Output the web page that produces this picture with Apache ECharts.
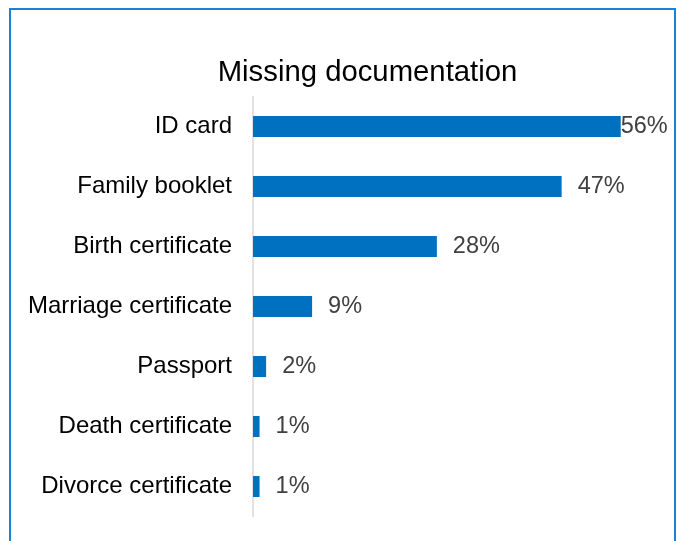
<!DOCTYPE html>
<html>
<head>
<meta charset="utf-8">
<script src="https://cdn.jsdelivr.net/npm/echarts@6/dist/echarts.min.js"></script>
<style>
  html, body { margin: 0; padding: 0; background: #fff; }
  #frame {
    position: absolute; left: 9px; top: 8px; width: 667px; height: 560px;
    border: 2px solid #1f7fd1; box-sizing: border-box;
  }
  #chart { position: absolute; left: 0; top: 0; width: 677px; height: 541px; }
</style>
</head>
<body>
<div id="frame"></div>
<div id="chart"></div>
<script>
const categories = [
  'ID card',
  'Family booklet',
  'Birth certificate',
  'Marriage certificate',
  'Passport',
  'Death certificate',
  'Divorce certificate'
]
const values = [56, 47, 28, 9, 2, 1, 1]

const font = '"Liberation Sans", Arial, sans-serif'

const chart = echarts.init(document.getElementById('chart'))

// Excel put the first label right on the bar end, the rest sit a bit off
const seriesData = values.map((v, i) => ({
  value: v,
  label: { distance: i === 0 ? 0 : 16 }
}))

chart.setOption({
  animation: false,
  title: {
    text: 'Missing documentation',
    left: 367.5,
    top: 58,
    padding: 0,
    textAlign: 'center',
    textStyle: { fontFamily: font, fontSize: 29.3, fontWeight: 'normal', color: '#000' }
  },
  grid: { left: 253, right: 30, top: 96.5, bottom: 24.5, containLabel: false },
  xAxis: {
    type: 'value',
    min: 0,
    max: 60,
    show: false
  },
  yAxis: {
    type: 'category',
    data: categories,
    inverse: true,
    axisLine: { show: true, lineStyle: { color: '#d9d9d9', width: 1.5 } },
    axisTick: { show: false },
    axisLabel: { fontFamily: font, fontSize: 24, color: '#000', margin: 21 }
  },
  series: [{
    type: 'bar',
    data: seriesData,
    barWidth: '35%',
    itemStyle: { color: '#0070c0' },
    label: {
      show: true,
      position: 'right',
      formatter: '{c}%',
      fontFamily: font,
      fontSize: 23.5,
      color: '#404040'
    }
  }]
})
</script>
</body>
</html>
